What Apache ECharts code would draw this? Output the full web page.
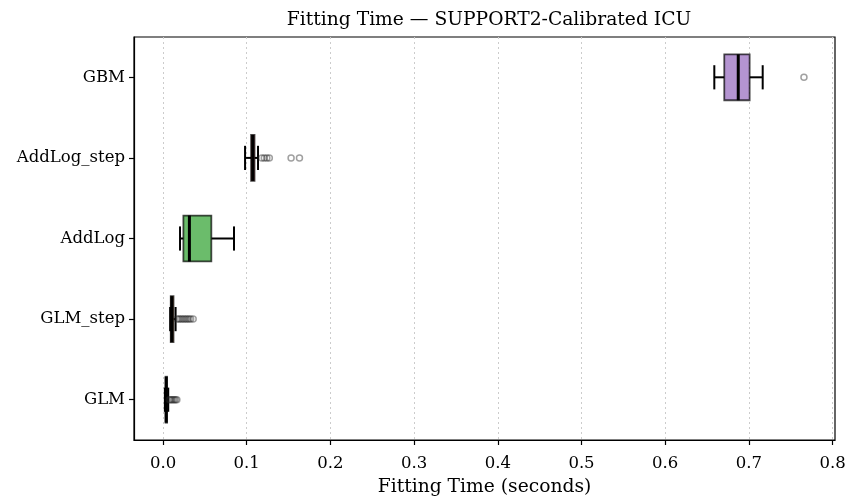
<!DOCTYPE html>
<html>
<head>
<meta charset="utf-8">
<script src="https://cdn.jsdelivr.net/npm/echarts@6/dist/echarts.min.js"></script>
<style>
  html, body { margin: 0; padding: 0; background: #fff; }
  #chart { width: 847px; height: 497px; }
</style>
</head>
<body>
<div id="chart"></div>
<script>
// Models, bottom to top
const categories = ['GLM', 'GLM_step', 'AddLog', 'AddLog_step', 'GBM'];

// Box statistics of fitting time (seconds), one entry per model
const whiskerLow  = [0.0022, 0.0085, 0.0203, 0.0980, 0.6587];
const quartile1   = [0.0030, 0.0092, 0.0243, 0.1052, 0.6706];
const medians     = [0.0038, 0.0105, 0.0315, 0.1072, 0.6873];
const quartile3   = [0.0048, 0.0125, 0.0577, 0.1093, 0.7009];
const whiskerHigh = [0.0062, 0.0150, 0.0848, 0.1135, 0.7165];

// Points beyond the whiskers
const outliers = [
  [0.0075, 0.0090, 0.0105, 0.0120, 0.0135, 0.0150, 0.0165],
  [0.0170, 0.0190, 0.0210, 0.0230, 0.0250, 0.0270, 0.0290, 0.0310, 0.0330, 0.0360],
  [],
  [0.1180, 0.1210, 0.1240, 0.1270, 0.1530, 0.1630],
  [0.7658]
];

// Axis ticks
const xTicks = [0, 0.1, 0.2, 0.3, 0.4, 0.5, 0.6, 0.7, 0.8];

const boxColors = ['#1f77b4', '#ff7f0e', '#2ca02c', '#d62728', '#9467bd'];
const serif = '"DejaVu Serif", serif';

const boxData = categories.map((c, i) => [i, whiskerLow[i], quartile1[i], medians[i], quartile3[i], whiskerHigh[i]]);
const outlierData = [];
outliers.forEach((arr, i) => arr.forEach(v => outlierData.push([v, i])));

const chart = echarts.init(document.getElementById('chart'), null, { renderer: 'canvas' });

chart.setOption({
  animation: false,
  backgroundColor: '#fff',
  title: {
    text: 'Fitting Time — SUPPORT2-Calibrated ICU',
    left: 484, top: 6, textAlign: 'center',
    textStyle: { fontFamily: serif, fontSize: 18.7, fontWeight: 'normal', color: '#000' }
  },
  grid: {
    left: 134, right: 12, top: 37, bottom: 57,
    outerBoundsMode: 'none',
    containLabel: false,
    show: true, borderColor: '#000', borderWidth: 1.2, backgroundColor: 'transparent'
  },
  xAxis: {
    type: 'value',
    min: -0.0347, max: 0.8029,
    splitNumber: 8,
    name: 'Fitting Time (seconds)',
    nameLocation: 'middle', nameGap: 38,
    nameTextStyle: { fontFamily: serif, fontSize: 18.7, color: '#000' },
    axisLine: { show: true, onZero: false, lineStyle: { color: '#000', width: 1.2 } },
    axisTick: { show: true, length: 5, lineStyle: { color: '#000', width: 1.2 }, customValues: xTicks },
    axisLabel: {
      fontFamily: serif, fontSize: 16.5, color: '#000', margin: 15,
      customValues: xTicks,
      formatter: v => v.toFixed(1)
    },
    splitLine: { show: true, lineStyle: { color: '#cccccc', type: [2, 3], width: 1 } }
  },
  yAxis: {
    type: 'category',
    data: categories,
    boundaryGap: true,
    axisLine: { show: true, onZero: false, lineStyle: { color: '#000', width: 1.2 } },
    axisTick: { show: true, alignWithLabel: true, length: 5, lineStyle: { color: '#000', width: 1.2 } },
    axisLabel: { fontFamily: serif, fontSize: 16.5, color: '#000', margin: 9 },
    splitLine: { show: false }
  },
  series: [
    {
      type: 'custom',
      data: boxData,
      encode: { x: [1, 2, 3, 4, 5], y: 0 },
      renderItem: function (params, api) {
        const cat = api.value(0);
        const lo = api.coord([api.value(1), cat]);
        const q1 = api.coord([api.value(2), cat]);
        const md = api.coord([api.value(3), cat]);
        const q3 = api.coord([api.value(4), cat]);
        const hi = api.coord([api.value(5), cat]);
        const band = api.size([0, 1])[1];
        const hb = band * 0.285;
        const hc = band * 0.15;
        const y = lo[1];
        const black = { stroke: '#000', lineWidth: 2 };
        return {
          type: 'group',
          children: [
            { type: 'line', shape: { x1: lo[0], y1: y, x2: q1[0], y2: y }, style: black },
            { type: 'line', shape: { x1: q3[0], y1: y, x2: hi[0], y2: y }, style: black },
            { type: 'line', shape: { x1: lo[0], y1: y - hc, x2: lo[0], y2: y + hc }, style: black },
            { type: 'line', shape: { x1: hi[0], y1: y - hc, x2: hi[0], y2: y + hc }, style: black },
            {
              type: 'rect',
              shape: { x: q1[0], y: y - hb, width: q3[0] - q1[0], height: 2 * hb },
              style: { fill: echarts.color.modifyAlpha(boxColors[cat], 0.7), stroke: 'rgba(0,0,0,0.7)', lineWidth: 1.8 }
            },
            { type: 'line', shape: { x1: md[0], y1: y - hb, x2: md[0], y2: y + hb }, style: { stroke: '#000', lineWidth: 3 } }
          ]
        };
      },
      z: 3
    },
    {
      type: 'scatter',
      data: outlierData,
      symbol: 'circle',
      symbolSize: 6,
      itemStyle: { color: 'rgba(0,0,0,0)', borderColor: 'rgba(40,40,40,0.55)', borderWidth: 1.5 },
      z: 4
    }
  ]
});
</script>
</body>
</html>
